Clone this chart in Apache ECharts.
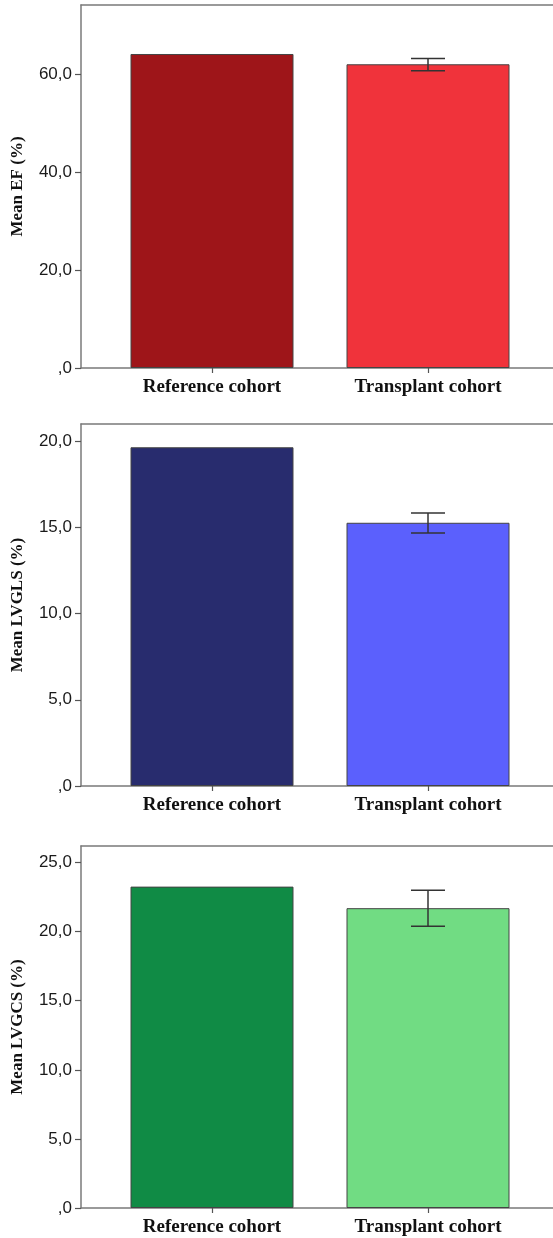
<!DOCTYPE html>
<html>
<head>
<meta charset="utf-8">
<script src="https://cdn.jsdelivr.net/npm/echarts@6/dist/echarts.min.js"></script>
<style>html,body{margin:0;padding:0;background:#fff;}#c{width:553px;height:1238px;}</style>
</head>
<body>
<div id="c"></div>
<script>
const categories = ['Reference cohort', 'Transplant cohort'];

const efMeans = [64.1, 62.0];
const efErrLow = [null, 60.7];
const efErrHigh = [null, 63.2];
const efTicks = [0, 20, 40, 60];
const efMax = 74.1;

const glsMeans = [19.65, 15.27];
const glsErrLow = [null, 14.67];
const glsErrHigh = [null, 15.84];
const glsTicks = [0, 5, 10, 15, 20];
const glsMax = 21.0;

const gcsMeans = [23.26, 21.7];
const gcsErrLow = [null, 20.4];
const gcsErrHigh = [null, 23.0];
const gcsTicks = [0, 5, 10, 15, 20, 25];
const gcsMax = 26.2;

const titles = ['Mean EF (%)', 'Mean LVGLS (%)', 'Mean LVGCS (%)'];

const panels = [
  {means: efMeans, lo: efErrLow, hi: efErrHigh, ticks: efTicks, max: efMax, colors: ['#9e1519', '#f0333b'], top: 5, bottomY: 368},
  {means: glsMeans, lo: glsErrLow, hi: glsErrHigh, ticks: glsTicks, max: glsMax, colors: ['#282c6e', '#5b60fd'], top: 424, bottomY: 786},
  {means: gcsMeans, lo: gcsErrLow, hi: gcsErrHigh, ticks: gcsTicks, max: gcsMax, colors: ['#108b45', '#71dc83'], top: 846, bottomY: 1208}
];

function fmt(v) {
  if (v === 0) return ',0';
  return v.toFixed(1).replace('.', ',');
}

const frameLine = {show: true, lineStyle: {color: '#7a7a7a', width: 1.5}};
const grid = [], xAxis = [], yAxis = [], series = [];
panels.forEach((p, i) => {
  const h = p.bottomY - p.top;
  const gBox = grid.length;
  grid.push({left: 81, right: -80, top: p.top, height: h});
  ['bottom', 'top'].forEach(pos => xAxis.push({
    gridIndex: gBox, type: 'value', position: pos, min: 0, max: 1,
    axisLine: frameLine, axisTick: {show: false}, axisLabel: {show: false}, splitLine: {show: false}
  }));
  yAxis.push({
    gridIndex: gBox, type: 'value', min: 0, max: p.max,
    name: titles[i], nameLocation: 'middle', nameGap: 55,
    nameTextStyle: {fontFamily: 'Liberation Serif', fontWeight: 'bold', fontSize: 17, color: '#111'},
    axisLine: frameLine,
    axisTick: {show: true, length: 6, lineStyle: {color: '#555', width: 1.2}, customValues: p.ticks},
    axisLabel: {fontFamily: 'Liberation Sans', fontSize: 17, color: '#1a1a1a', margin: 9, formatter: fmt, customValues: p.ticks},
    splitLine: {show: false}
  });
  const gData = grid.length;
  grid.push({left: 104, width: 432, top: p.top, height: h});
  xAxis.push({
    gridIndex: gData, type: 'category', data: categories,
    axisLine: {show: false},
    axisTick: {show: true, alignWithLabel: true, length: 5, lineStyle: {color: '#555', width: 1.2}},
    axisLabel: {fontFamily: 'Liberation Serif', fontWeight: 'bold', fontSize: 19, color: '#111', margin: 10}
  });
  yAxis.push({gridIndex: gData, type: 'value', min: 0, max: p.max, show: false, splitLine: {show: false}});
  const yIdx = yAxis.length - 1, xIdx = xAxis.length - 1;
  series.push({
    type: 'bar', xAxisIndex: xIdx, yAxisIndex: yIdx, barWidth: 163,
    data: p.means.map((v, k) => ({value: v, itemStyle: {color: p.colors[k]}})),
    itemStyle: {borderColor: '#444', borderWidth: 1}
  });
  const errData = categories.map((c, k) => [k, p.lo[k], p.hi[k]]).filter(d => d[1] != null);
  series.push({
    type: 'custom', xAxisIndex: xIdx, yAxisIndex: yIdx, z: 10,
    data: errData,
    renderItem: function (params, api) {
      const x = api.value(0);
      const lo = api.coord([x, api.value(1)]);
      const hi = api.coord([x, api.value(2)]);
      const cw = 17;
      const st = {stroke: '#333', lineWidth: 1.5};
      return {type: 'group', children: [
        {type: 'line', shape: {x1: hi[0], y1: hi[1], x2: lo[0], y2: lo[1]}, style: st},
        {type: 'line', shape: {x1: hi[0] - cw, y1: hi[1], x2: hi[0] + cw, y2: hi[1]}, style: st},
        {type: 'line', shape: {x1: lo[0] - cw, y1: lo[1], x2: lo[0] + cw, y2: lo[1]}, style: st}
      ]};
    }
  });
});

const chart = echarts.init(document.getElementById('c'), null, {renderer: 'canvas'});
chart.setOption({animation: false, backgroundColor: '#fff', grid, xAxis, yAxis, series});
</script>
</body>
</html>
